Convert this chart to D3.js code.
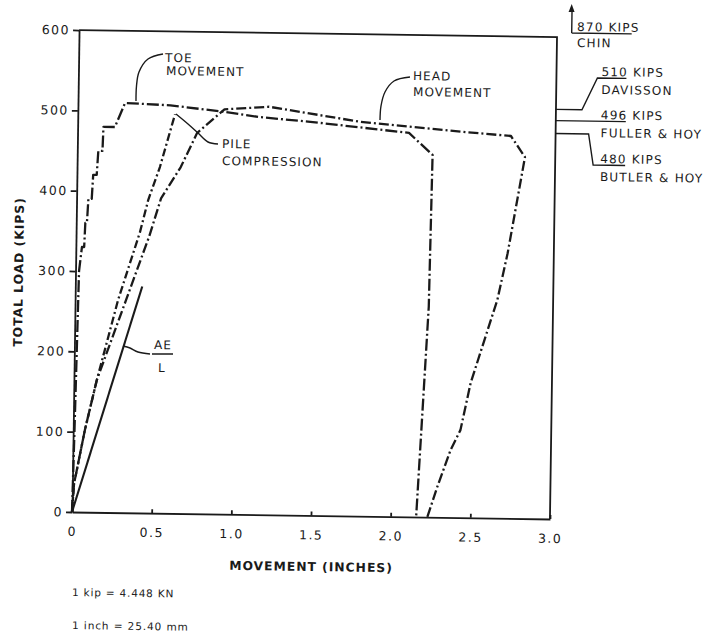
<!DOCTYPE html>
<html>
<head>
<meta charset="utf-8">
<script src="https://cdn.jsdelivr.net/npm/d3@7"></script>
<style>
  body { margin: 0; background: #fff; }
  text { font-family: "DejaVu Sans", sans-serif; fill: #1a1a1a; }
  .axis path, .axis line { stroke: #1a1a1a; stroke-width: 1.8; }
  .axis text { font-size: 12.5px; letter-spacing: 1.5px; }
</style>
</head>
<body>
<div class="chart"></div>
<script>
// Values
// movement in inches, load in kips
var xTicks = [0, 0.5, 1.0, 1.5, 2.0, 2.5, 3.0];
var xTickLabels = ["0", "0.5", "1.0", "1.5", "2.0", "2.5", "3.0"];
var yTicks = [0, 100, 200, 300, 400, 500, 600];

var toeMove = [0, 0.008, 0.015, 0.022, 0.038, 0.052, 0.057, 0.067, 0.074, 0.095, 0.102, 0.124, 0.132, 0.158,
  0.162, 0.234, 0.295, 0.58, 0.91, 1.14, 1.46, 1.77, 2.08, 2.23, 2.22, 2.16];
var toeLoad = [0, 100, 200, 300, 330, 330, 360, 360, 390, 390, 420, 420, 450, 450,
  480, 480, 510, 508, 501, 495, 490, 484, 478, 451, 262, 0];

var headMove = [0, 0.01, 0.074, 0.144, 0.32, 0.46, 0.53, 0.65, 0.75, 0.92, 1.2, 1.77, 2.44, 2.72,
  2.81, 2.71, 2.65, 2.49, 2.43, 2.37, 2.29, 2.23];
var headLoad = [0, 35, 103, 165, 265, 345, 392, 431, 474, 504, 508, 491, 480, 476,
  450, 330, 272, 168, 109, 84, 38, 0];

var pileMove = [0, 0.01, 0.074, 0.144, 0.27, 0.40, 0.45, 0.52, 0.61];
var pileLoad = [0, 35, 103, 165, 265, 349, 390, 431, 497];

var aeMove = [0, 0.42];
var aeLoad = [0, 282];

// failure loads by the different methods (right margin)
var capLoads = [510, 496, 480];
var capMethods = ["DAVISSON", "FULLER & HOY", "BUTLER & HOY"];

var svgWidth = 703;
var svgHeight = 635;
var margin = { top: 30, left: 72 };
var width = 478;
var height = 482;

// the scan is tilted a little, so the whole drawing is turned round the origin
var angle = 0.84;
var rad = angle * Math.PI / 180;
var pivot = [margin.left, margin.top + height];

// turns a point measured on the page into the tilted drawing's frame
function unrot(p) {
  var dx = p[0] - pivot[0], dy = p[1] - pivot[1];
  return [pivot[0] + dx * Math.cos(rad) + dy * Math.sin(rad),
          pivot[1] - dx * Math.sin(rad) + dy * Math.cos(rad)];
}

var svg = d3.select(".chart")
  .append("svg")
  .attr("width", svgWidth)
  .attr("height", svgHeight);

var page = svg.append("g")
  .attr("transform", `rotate(${angle}, ${pivot[0]}, ${pivot[1]})`);

var chartGroup = page.append("g")
  .attr("transform", `translate(${margin.left}, ${margin.top})`);

var x = d3.scaleLinear().domain([0, 3]).range([0, width]);
var y = d3.scaleLinear().domain([0, 600]).range([height, 0]);

// axes
chartGroup.append("g")
  .attr("class", "axis")
  .attr("transform", `translate(0, ${height})`)
  .call(d3.axisBottom(x).tickValues(xTicks)
    .tickFormat((d, i) => xTickLabels[i])
    .tickSizeInner(-4).tickSizeOuter(0).tickPadding(15));

chartGroup.append("g")
  .attr("class", "axis")
  .call(d3.axisLeft(y).tickValues(yTicks).tickSize(6).tickSizeOuter(0).tickPadding(3));

chartGroup.selectAll(".domain").attr("fill", "none");

// top and right edges of the box
chartGroup.append("path")
  .attr("d", `M0,${y(600)}H${x(3)}V${y(0)}`)
  .attr("fill", "none")
  .attr("stroke", "#1a1a1a")
  .attr("stroke-width", 1.8);

// curves
var line = d3.line().x(d => x(d[0])).y(d => y(d[1]));

var curves = [
  { pts: d3.zip(toeMove, toeLoad), dash: "12,3,2,3", w: 2.3 },
  { pts: d3.zip(headMove, headLoad), dash: "10,3,2,3", w: 2.3 },
  { pts: d3.zip(pileMove, pileLoad), dash: "8,3,2,3", w: 2.3 },
  { pts: d3.zip(aeMove, aeLoad), dash: null, w: 2.1 }
];

chartGroup.selectAll(".curve")
  .data(curves)
  .enter()
  .append("path")
  .attr("class", "curve")
  .attr("d", d => line(d.pts))
  .attr("fill", "none")
  .attr("stroke", "#1a1a1a")
  .attr("stroke-width", d => d.w)
  .attr("stroke-dasharray", d => d.dash)
  .attr("stroke-linejoin", "round");

// leaders from the labels to the curves (page positions)
var leaders = [
  [[163, 54], [148, 59], [139, 72], [136.5, 86], [136, 101]],
  [[410, 77], [394, 81], [385, 92], [381, 106], [380, 120]],
  [[218, 144], [208, 142], [198, 133], [188, 124], [176, 114]],
  [[150, 354], [138, 352], [130, 348], [123, 346]]
];
var leaderLine = d3.line().curve(d3.curveCatmullRom);
page.selectAll(".leader")
  .data(leaders)
  .enter()
  .append("path")
  .attr("class", "leader")
  .attr("d", d => leaderLine(d.map(unrot)))
  .attr("fill", "none")
  .attr("stroke", "#1a1a1a")
  .attr("stroke-width", 1.4);

// labels inside the plot and notes (page positions)
var labels = [
  { t: "TOE", p: [165, 62] },
  { t: "MOVEMENT", p: [166, 75] },
  { t: "PILE", p: [222, 148] },
  { t: "COMPRESSION", p: [222, 165] },
  { t: "HEAD", p: [413, 80] },
  { t: "MOVEMENT", p: [413, 96] },
  { t: "AE", p: [154, 349] },
  { t: "L", p: [158, 372] }
];
page.selectAll(".label")
  .data(labels)
  .enter()
  .append("text")
  .attr("class", "label")
  .attr("transform", d => `translate(${unrot(d.p)})`)
  .style("font-size", "12px")
  .style("letter-spacing", "1.1px")
  .text(d => d.t);

// AE/L fraction bar
var bar = [unrot([152, 354]), unrot([173, 354])];
page.append("line")
  .attr("x1", bar[0][0]).attr("y1", bar[0][1])
  .attr("x2", bar[1][0]).attr("y2", bar[1][1])
  .attr("stroke", "#1a1a1a").attr("stroke-width", 1.3);

// axis titles
page.append("text")
  .attr("transform", `translate(${unrot([311, 571])})`)
  .attr("text-anchor", "middle")
  .style("font-size", "12.3px")
  .style("font-weight", "bold")
  .style("letter-spacing", "1px")
  .text("MOVEMENT (INCHES)");

page.append("text")
  .attr("transform", `translate(${unrot([23, 272])}) rotate(-90)`)
  .attr("text-anchor", "middle")
  .style("font-size", "12.3px")
  .style("font-weight", "bold")
  .style("letter-spacing", "1px")
  .text("TOTAL LOAD (KIPS)");

page.append("text")
  .attr("transform", `translate(${unrot([72, 596])})`)
  .style("font-size", "10.5px")
  .style("letter-spacing", "0.8px")
  .text("1 kip = 4.448 KN");

page.append("text")
  .attr("transform", `translate(${unrot([72, 629])})`)
  .style("font-size", "10.5px")
  .style("letter-spacing", "0.9px")
  .text("1 inch = 25.40 mm");

// failure load notes on the right, hooked to the right edge at their load
var ink = "#1a1a1a";
var xr = margin.left + x(3);
var ya = capLoads.map(v => margin.top + y(v));

var hooks = [
  `M${xr},${ya[0]}h26l15,-32h29`,
  `M${xr},${ya[1]}h70`,
  `M${xr},${ya[2]}h33l5,31h32`
];
page.selectAll(".hook")
  .data(hooks)
  .enter()
  .append("path")
  .attr("class", "hook")
  .attr("d", d => d)
  .attr("fill", "none")
  .attr("stroke", ink)
  .attr("stroke-width", 1.4);

var notes = [
  { t: capLoads[0] + " KIPS", dy: -34 + ya[0] }, { t: capMethods[0], dy: -16 + ya[0] },
  { t: capLoads[1] + " KIPS", dy: -2 + ya[1] }, { t: capMethods[1], dy: 16 + ya[1] },
  { t: capLoads[2] + " KIPS", dy: 29 + ya[2] }, { t: capMethods[2], dy: 47 + ya[2] }
];
page.selectAll(".note")
  .data(notes)
  .enter()
  .append("text")
  .attr("class", "note")
  .attr("x", xr + 45)
  .attr("y", d => d.dy)
  .style("font-size", "12px")
  .style("letter-spacing", "1.2px")
  .text(d => d.t);

// Chin's value is off the chart: arrow upwards
var chinBase = unrot([571.7, 33]);
var chinTip = unrot([571.7, 4]);
page.append("path")
  .attr("d", `M${chinBase[0]},${chinBase[1]}V${chinTip[1] + 6}M${chinBase[0]},${chinBase[1]}h60`)
  .attr("fill", "none")
  .attr("stroke", ink)
  .attr("stroke-width", 1.4);
page.append("path")
  .attr("d", `M${chinTip[0]},${chinTip[1]}l-3,8h6z`)
  .attr("fill", ink);

page.append("text")
  .attr("transform", `translate(${unrot([577, 31])})`)
  .style("font-size", "12px")
  .style("letter-spacing", "1.2px")
  .text("870 KIPS");
page.append("text")
  .attr("transform", `translate(${unrot([577, 47])})`)
  .style("font-size", "12px")
  .style("letter-spacing", "1.2px")
  .text("CHIN");
</script>
</body>
</html>
